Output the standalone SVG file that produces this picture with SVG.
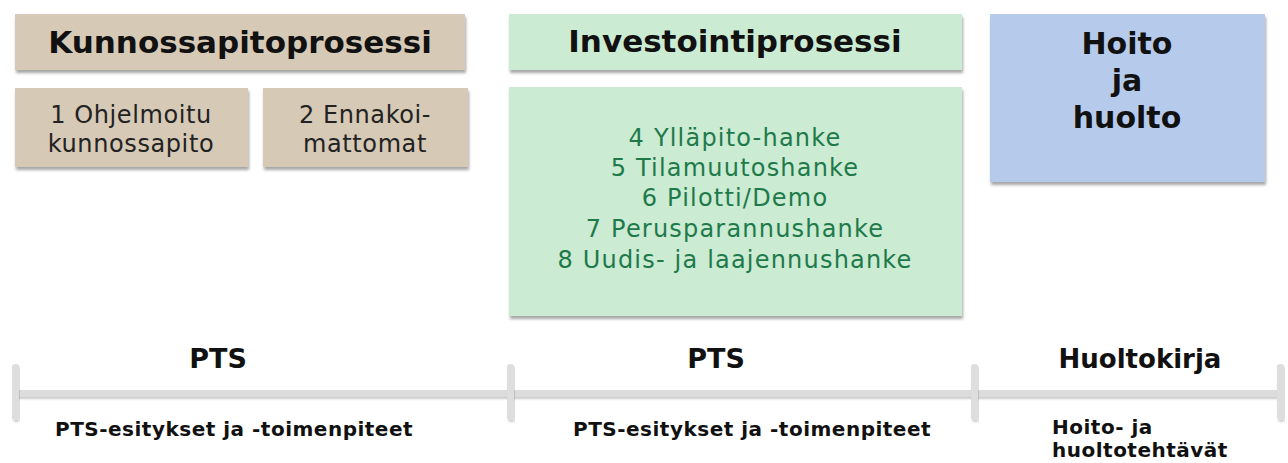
<svg xmlns="http://www.w3.org/2000/svg" width="1288" height="463" viewBox="0 0 1288 463">
<defs>
<filter id="sh" x="-10%" y="-10%" width="120%" height="130%">
<feDropShadow dx="1" dy="3" stdDeviation="1.8" flood-color="#000" flood-opacity="0.35"/>
</filter>
<filter id="tsh" x="-10%" y="-50%" width="120%" height="250%">
<feDropShadow dx="1" dy="2" stdDeviation="1" flood-color="#000" flood-opacity="0.2"/>
</filter>
</defs>
<style>
.tan{fill:#d6c9b6}
.grn{fill:#cbebd3}
.blu{fill:#b6cbeb}
.ttl{font-family:"DejaVu Sans",Verdana,sans-serif;font-weight:bold;fill:#111;text-anchor:middle}
.reg{font-family:"DejaVu Sans",Verdana,sans-serif;fill:#222;text-anchor:middle;font-size:24px;letter-spacing:0.6px}
.gt{font-family:"DejaVu Sans",Verdana,sans-serif;fill:#1e7a4a;text-anchor:middle;font-size:24px;letter-spacing:1.2px}
.lab{font-family:"DejaVu Sans",Verdana,sans-serif;font-weight:bold;fill:#111}
.sm{font-size:20px;letter-spacing:0.5px}
.line{fill:#dcdcdc}
.tick{fill:#dedede}
</style>
<rect width="1288" height="463" fill="#fff"/>

<g id="kunnossapitoprosessi">
<rect class="tan" x="15" y="14" width="450" height="56" filter="url(#sh)"/>
<text class="ttl" x="240" y="53" font-size="31">Kunnossapitoprosessi</text>
</g>
<g id="ohjelmoitu">
<rect class="tan" x="15" y="88" width="233" height="79" filter="url(#sh)"/>
<text class="reg" x="131" y="123">1 Ohjelmoitu</text>
<text class="reg" x="131" y="152">kunnossapito</text>
</g>
<g id="ennakoimattomat">
<rect class="tan" x="263" y="88" width="205" height="79" filter="url(#sh)"/>
<text class="reg" x="365" y="123">2 Ennakoi-</text>
<text class="reg" x="365" y="152">mattomat</text>
</g>

<g id="investointiprosessi">
<rect class="grn" x="509" y="14" width="453" height="56" filter="url(#sh)"/>
<text class="ttl" x="735" y="52" font-size="31">Investointiprosessi</text>
</g>
<g id="hankkeet">
<rect class="grn" x="509" y="87" width="453" height="229" filter="url(#sh)"/>
<text class="gt" x="735" y="146">4 Ylläpito-hanke</text>
<text class="gt" x="735" y="176">5 Tilamuutoshanke</text>
<text class="gt" x="735" y="206">6 Pilotti/Demo</text>
<text class="gt" x="735" y="237">7 Perusparannushanke</text>
<text class="gt" x="735" y="268">8 Uudis- ja laajennushanke</text>
</g>

<g id="hoito">
<rect class="blu" x="990" y="14" width="275" height="168" filter="url(#sh)"/>
<text class="ttl" x="1127" y="54" font-size="30">Hoito</text>
<text class="ttl" x="1127" y="91" font-size="30">ja</text>
<text class="ttl" x="1127" y="128" font-size="30">huolto</text>
</g>

<g id="connectors">
<rect class="line" x="16" y="390" width="1265" height="7" filter="url(#tsh)"/>
<rect class="tick" x="12" y="364" width="7" height="56" rx="3" filter="url(#tsh)"/>
<rect class="tick" x="507" y="364" width="7" height="56" rx="3" filter="url(#tsh)"/>
<rect class="tick" x="971" y="364" width="7" height="56" rx="3" filter="url(#tsh)"/>
<rect class="tick" x="1277" y="364" width="7" height="56" rx="3" filter="url(#tsh)"/>
</g>

<g id="labels">
<text class="lab" x="218" y="368" font-size="27" text-anchor="middle">PTS</text>
<text class="lab" x="716" y="368" font-size="27" text-anchor="middle">PTS</text>
<text class="lab" x="1140" y="368" font-size="26" text-anchor="middle">Huoltokirja</text>
<text class="lab sm" x="55" y="436">PTS-esitykset ja -toimenpiteet</text>
<text class="lab sm" x="573" y="436">PTS-esitykset ja -toimenpiteet</text>
<text class="lab sm" x="1052" y="434">Hoito- ja</text>
<text class="lab sm" x="1052" y="457">huoltotehtävät</text>
</g>
</svg>
